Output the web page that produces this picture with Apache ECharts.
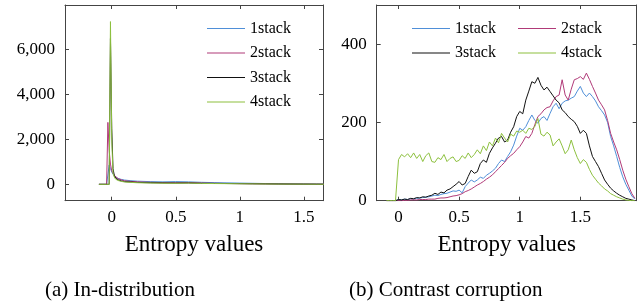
<!DOCTYPE html>
<html>
<head>
<meta charset="utf-8">
<script src="https://cdn.jsdelivr.net/npm/echarts@6/dist/echarts.min.js"></script>
<style>
html,body{margin:0;padding:0;background:#fff;}
#c{width:637px;height:305px;}
</style>
</head>
<body>
<div id="c"></div>
<script>
// ---- data: (a) In-distribution ----
const seriesNames = ['1stack', '2stack', '3stack', '4stack'];
const xA = [-0.1,-0.04,-0.03,-0.02,-0.01,0,0.01,0.02,0.03,0.05,0.075,0.1,0.15,0.2,0.3,0.4,0.5,0.6,0.7,0.8,0.9,1.0,1.1,1.2,1.3,1.4,1.5,1.6,1.7];
const a1 = [0,0,0,860,700,550,450,380,320,260,220,190,160,140,120,110,120,110,90,75,65,55,45,35,28,20,15,10,8];
const a2 = [0,0,2760,1500,900,600,500,400,320,250,200,160,130,110,90,75,70,80,55,45,38,32,25,20,15,12,9,6,4];
const a3 = [0,0,0,0,6500,2500,700,400,280,200,150,120,100,85,70,60,55,60,45,40,35,30,25,20,15,12,9,6,4];
const a4 = [0,0,0,0,7250,2000,500,320,230,170,130,105,85,70,58,50,45,55,40,35,30,25,20,15,12,10,8,5,3];
const xTicksA = [0, 0.5, 1, 1.5];
const yTicksA = [0, 2000, 4000, 6000];

// ---- data: (b) Contrast corruption ----
const xB = [-0.1,-0.075,-0.05,-0.025,0,0.025,0.05,0.075,0.1,0.125,0.15,0.175,0.2,0.225,0.25,0.275,0.3,0.325,0.35,0.375,0.4,0.425,0.45,0.475,0.5,0.525,0.55,0.575,0.6,0.625,0.65,0.675,0.7,0.725,0.75,0.775,0.8,0.825,0.85,0.875,0.9,0.925,0.95,0.975,1,1.025,1.05,1.075,1.1,1.125,1.15,1.175,1.2,1.225,1.25,1.275,1.3,1.325,1.35,1.375,1.4,1.425,1.45,1.475,1.5,1.525,1.55,1.575,1.6,1.625,1.65,1.675,1.7,1.725,1.75,1.775,1.8,1.825,1.85,1.875,1.9,1.925,1.95];
const b1 = [0,0,0,0,3,2,4,3,5,4, 6,7,8,9,10,12,14,13,16,18, 19,22,25,24,27,20,36,45,53,48, 53,60,57,65,70,76,83,95,104,100, 113,125,142,165,185,180,189,205,219,205, 198,210,215,205,223,240,249,235,249,255, 257,262,266,280,292,275,266,275,266,255, 240,230,219,200,164,140,113,85,61,42, 27,12,4];
const b2 = [0,0,0,0,0,0,1,1,2,2, 2,3,3,3,4,4,4,6,7,7, 8,10,12,13,15,18,23,26,30,35, 40,44,49,55,60,66,74,82,90,98, 108,115,121,130,138,150,164,160,172,195, 215,222,232,238,240,255,266,270,309,270, 257,285,309,312,317,310,326,310,292,275, 257,245,232,205,172,150,130,105,78,55, 36,18,6];
const b3 = [0,0,0,0,3,2,4,3,6,5, 8,7,10,9,12,14,19,16,22,20, 27,30,36,42,49,40,44,62,78,70, 74,95,104,98,121,135,147,160,164,150, 155,175,189,215,228,222,257,280,304,300, 315,295,283,290,279,268,257,250,232,225, 215,208,202,190,172,180,172,140,113,100, 87,70,53,42,32,25,19,14,10,6, 4,2,0];
const b4 = [0,0,0,0,105,118,112,120,110,122, 108,118,100,115,122,100,98,110,105,118, 100,108,112,100,103,115,108,122,110,118, 130,120,140,128,150,140,160,148,172,160, 150,170,165,178,175,180,172,185,182,190, 210,170,165,175,168,140,150,158,140,120, 130,155,130,110,95,105,98,80,65,55, 45,38,30,25,18,14,10,7,4,2, 1,0,0];
const xTicksB = [0, 0.5, 1, 1.5];
const yTicksB = [0, 200, 400];

const colors = ['#4f8fd8', '#b03a78', '#111111', '#8dc03f'];
const FONT = 'Liberation Serif';

function pairs(xs, ys) { return xs.map((x, i) => [x, ys[i]]); }
function fmtComma(v) { return String(v).replace(/\B(?=(\d{3})+(?!\d))/g, ','); }

const frameColor = '#444';
function xAx(grid, min, max, ticks, pos, showLabel, name) {
  return {
    type: 'value', gridIndex: grid, min: min, max: max, position: pos,
    splitLine: { show: false },
    axisLine: { show: true, onZero: false, lineStyle: { color: frameColor, width: 1 } },
    axisTick: { show: true, inside: true, length: 4, customValues: ticks, lineStyle: { color: frameColor } },
    axisLabel: { show: showLabel, customValues: ticks, margin: 8, fontFamily: FONT, fontSize: 17, color: '#000' },
    name: name || '', nameLocation: 'middle', nameGap: 33,
    nameTextStyle: { fontFamily: FONT, fontSize: 23, color: '#000' }
  };
}
function yAx(grid, min, max, ticks, pos, showLabel, fmt) {
  return {
    type: 'value', gridIndex: grid, min: min, max: max, position: pos,
    splitLine: { show: false },
    axisLine: { show: true, onZero: false, lineStyle: { color: frameColor, width: 1 } },
    axisTick: { show: true, inside: true, length: 4, customValues: ticks, lineStyle: { color: frameColor } },
    axisLabel: { show: showLabel, customValues: ticks, margin: 10, fontFamily: FONT, fontSize: 17, color: '#000', formatter: fmt }
  };
}

const seriesA = [a1, a2, a3, a4].map((ys, i) => ({
  name: seriesNames[i], type: 'line', xAxisIndex: 0, yAxisIndex: 0,
  data: pairs(xA, ys), symbol: 'none', showSymbol: false,
  lineStyle: { width: 1, color: colors[i] }, itemStyle: { color: colors[i] },
  animation: false
}));
const seriesB = [b1, b2, b3, b4].map((ys, i) => ({
  name: seriesNames[i], type: 'line', xAxisIndex: 2, yAxisIndex: 2,
  data: pairs(xB, ys), symbol: 'none', showSymbol: false,
  lineStyle: { width: 1, color: colors[i] }, itemStyle: { color: colors[i] },
  animation: false
}));

function legend(left, names) {
  return {
    orient: 'vertical', left: left, top: 19.5, padding: 0,
    icon: 'rect', itemWidth: 38, itemHeight: 1.1, itemGap: 6.5,
    textStyle: { fontFamily: FONT, fontSize: 16, color: '#000', lineHeight: 18 },
    data: names
  };
}

const chart = echarts.init(document.getElementById('c'), null, { renderer: 'canvas' });
chart.setOption({
  animation: false,
  color: colors,
  grid: [
    { left: 65, top: 5, width: 258, height: 195.7 },
    { left: 376.7, top: 5, width: 260, height: 195.7 }
  ],
  xAxis: [
    xAx(0, -0.365, 1.65, xTicksA, 'bottom', true, 'Entropy values'),
    xAx(0, -0.365, 1.65, xTicksA, 'top', false),
    xAx(1, -0.18, 1.965, xTicksB, 'bottom', true, 'Entropy values'),
    xAx(1, -0.18, 1.965, xTicksB, 'top', false)
  ],
  yAxis: [
    yAx(0, -730, 7990, yTicksA, 'left', true, fmtComma),
    yAx(0, -730, 7990, yTicksA, 'right', false),
    yAx(1, 0, 500, yTicksB, 'left', true),
    yAx(1, 0, 500, yTicksB, 'right', false)
  ],
  legend: [
    legend(207, ['1stack', '2stack', '3stack', '4stack']),
    legend(412, ['1stack', '3stack']),
    legend(518, ['2stack', '4stack'])
  ],
  title: [
    { text: '(a) In-distribution', left: 45, top: 280, padding: 0, textStyle: { fontFamily: FONT, fontSize: 21, fontWeight: 'normal', color: '#000' } },
    { text: '(b) Contrast corruption', left: 349, top: 280, padding: 0, textStyle: { fontFamily: FONT, fontSize: 21, fontWeight: 'normal', color: '#000' } }
  ],
  series: seriesA.concat(seriesB)
});
</script>
</body>
</html>
